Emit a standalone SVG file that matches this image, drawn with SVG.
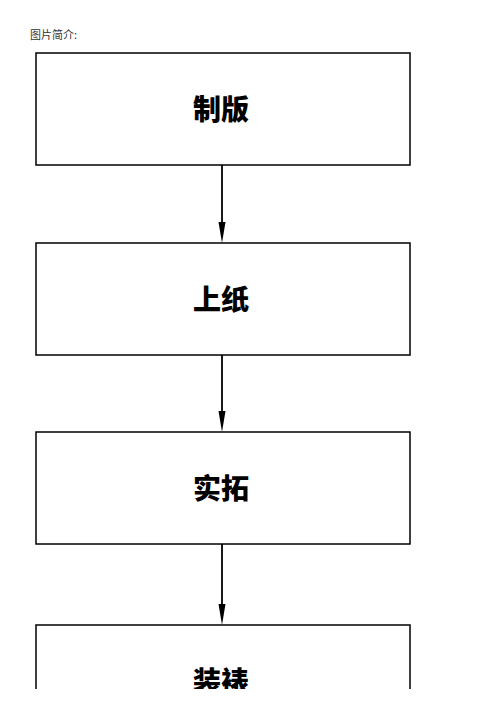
<svg xmlns="http://www.w3.org/2000/svg" width="504" height="713" viewBox="0 0 504 713">
<defs>
<style>
.box{fill:#fff;stroke:#000;stroke-width:1.5}
.lbl{font-family:"Noto Sans CJK SC",sans-serif;font-weight:900;font-size:28px;text-anchor:middle;fill:#000}
.cap{font-family:"Noto Sans CJK SC",serif;font-size:11px;fill:#333}
.conn{stroke:#000;stroke-width:1.8;fill:none}
</style>
<clipPath id="page"><rect x="0" y="0" width="504" height="689"/></clipPath>
</defs>
<rect width="504" height="713" fill="#fff"/>
<text class="cap" x="30" y="39">图片简介:</text>
<g clip-path="url(#page)">
<g id="n1"><rect class="box" x="36" y="53" width="374" height="112"/><text class="lbl" x="221" y="120">制版</text></g>
<g id="n2"><rect class="box" x="36" y="243" width="374" height="112"/><text class="lbl" x="221" y="310">上纸</text></g>
<g id="n3"><rect class="box" x="36" y="432" width="374" height="112"/><text class="lbl" x="221" y="499">实拓</text></g>
<g id="n4"><rect class="box" x="36" y="625" width="374" height="112"/><text class="lbl" x="221" y="692">装裱</text></g>
<g id="connectors">
<line class="conn" x1="222" y1="165" x2="222" y2="225"/>
<polygon points="218.5,222 225.5,222 222,243" fill="#000"/>
<line class="conn" x1="222" y1="355" x2="222" y2="414"/>
<polygon points="218.5,411 225.5,411 222,432" fill="#000"/>
<line class="conn" x1="222" y1="544" x2="222" y2="607"/>
<polygon points="218.5,604 225.5,604 222,625" fill="#000"/>
</g>
</g>
</svg>
